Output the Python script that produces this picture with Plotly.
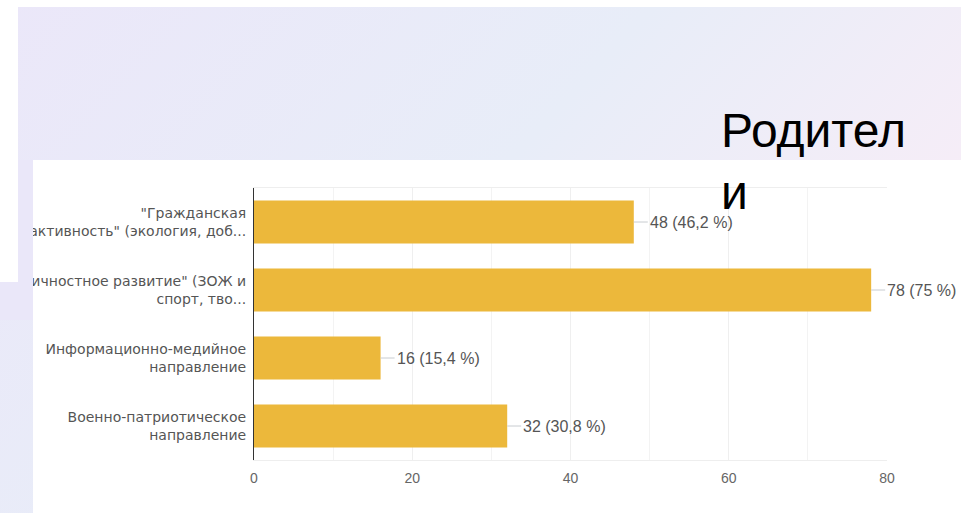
import plotly.graph_objects as go

# ---- data ----
categories = [
    '"Гражданская<br>активность" (экология, доб...',
    '"Личностное развитие" (ЗОЖ и<br>спорт, тво...',
    'Информационно-медийное<br>направление',
    'Военно-патриотическое<br>направление',
]
counts = [48, 78, 16, 32]
percent_labels = ["46,2 %", "75 %", "15,4 %", "30,8 %"]
x_ticks = [0, 20, 40, 60, 80]
title_text = "Родител<br>и"

W, H = 961, 513
L, R, T, B = 254, 887, 188, 460  # plot area in px


def px_x(x):
    return (x - L) / (R - L)


def px_y(y):
    return (B - y) / (B - T)


bar_color = "#ECB83B"

fig = go.Figure()
fig.add_trace(go.Bar(
    x=counts, y=categories, orientation="h",
    marker=dict(color=bar_color, line=dict(width=0)),
    hoverinfo="skip",
))

annotations = []
for c, cnt, p in zip(categories, counts, percent_labels):
    annotations.append(dict(
        x=cnt, y=c, xref="x", yref="y",
        text=f"{cnt} ({p})", showarrow=True, arrowhead=0,
        arrowwidth=1, arrowcolor="#c8ccd0", ax=14, ay=0,
        xanchor="left", yanchor="middle", standoff=0,
        font=dict(family="Liberation Sans, Arial", size=16, color="#555555"),
    ))

annotations.append(dict(
    x=px_x(719), y=px_y(102), xref="paper", yref="paper",
    text=title_text, showarrow=False, xanchor="left", yanchor="top",
    align="left",
    font=dict(family="Liberation Sans, Arial", size=48, color="#000000"),
))

# gradient slide background as svg
svg = ("data:image/svg+xml;utf8,<svg xmlns='http://www.w3.org/2000/svg' width='961' height='513'>"
       "<defs><linearGradient id='g' x1='0' y1='0' x2='1' y2='0.5'>"
       "<stop offset='0' stop-color='%23EBE7F9'/>"
       "<stop offset='0.55' stop-color='%23E8EDF8'/>"
       "<stop offset='1' stop-color='%23F8EDF7'/>"
       "</linearGradient></defs>"
       "<rect width='961' height='513' fill='url(%23g)'/></svg>")

images = [dict(source=svg, xref="paper", yref="paper",
               x=px_x(0), y=px_y(0), sizex=px_x(W) - px_x(0),
               sizey=px_y(0) - px_y(H), sizing="stretch",
               xanchor="left", yanchor="top", layer="below")]


def rect(x0, y0, x1, y1, color="white", layer="below"):
    return dict(type="rect", xref="paper", yref="paper",
                x0=px_x(x0), x1=px_x(x1), y0=px_y(y1), y1=px_y(y0),
                fillcolor=color, line=dict(width=0), layer=layer)


shapes = [
    rect(0, 0, W, 7),
    rect(0, 0, 18, 282),
    rect(33, 160, W, H),
    # cover label text overflowing the chart picture on the left
    rect(0, 200, 18, 282, color="white", layer="above"),
    rect(0, 282, 33, 320, color="#EAE7F9", layer="above"),
    rect(18, 160, 33, 282, color="#EAE7F9", layer="above"),
]

fig.update_layout(
    width=W, height=H, autosize=False,
    margin=dict(l=L, r=W - R, t=T, b=H - B, pad=0),
    paper_bgcolor="#EAE8F8", plot_bgcolor="rgba(0,0,0,0)",
    showlegend=False, bargap=0.37,
    font=dict(family="DejaVu Sans", size=15, color="#555555"),
    xaxis=dict(range=[0, 80], tickvals=x_ticks, ticktext=[str(v) for v in x_ticks],
               showgrid=True, gridcolor="#efefef", gridwidth=1,
               minor=dict(dtick=10, showgrid=True, gridcolor="#f3f3f3"),
               zeroline=False, showline=True, linecolor="#eeeeee", mirror=True,
               ticks="", ticklen=0, ticklabelstandoff=5,
               tickfont=dict(family="Liberation Sans, Arial", size=14, color="#666666"),
               fixedrange=True),
    yaxis=dict(autorange="reversed", showgrid=False, zeroline=False,
               showline=True, linecolor="#333333", linewidth=1,
               ticks="", ticklabelstandoff=4,
               tickfont=dict(family="DejaVu Sans", size=14, color="#555555"),
               fixedrange=True),
    annotations=annotations, shapes=shapes, images=images,
)

fig.write_html("out.html", config={"displayModeBar": False},
               post_script="document.body.style.margin='0';document.body.style.overflow='hidden';")
